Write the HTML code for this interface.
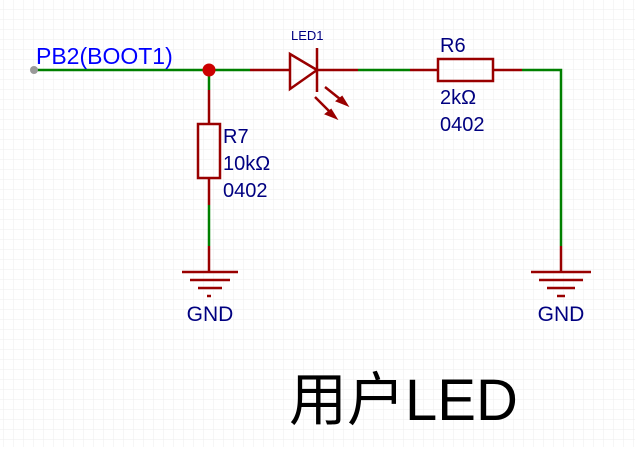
<!DOCTYPE html>
<html><head><meta charset="utf-8"><style>
html,body{margin:0;padding:0;background:#fff}
body{width:635px;height:447px;overflow:hidden}
</style></head><body>
<svg width="635" height="447" xmlns="http://www.w3.org/2000/svg">
<defs>
<pattern id="g" width="10" height="10" patternUnits="userSpaceOnUse" x="4" y="0">
<path d="M10 0V10M0 10H10" stroke="#eeeeee" stroke-width="1" fill="none"/>
</pattern>
</defs>
<rect width="635" height="447" fill="url(#g)"/>
<g fill="none" stroke-width="2.5">
<path d="M34 70H250M358 70H410M522 70H561V246M209 70V90M209 205V246" stroke="#008000"/>
<path d="M250 70H290M317 70H358M410 70H438M493 70H522M209 90V124M209 178V205M209 246V272M561 246V272" stroke="#990000"/>
<rect x="438" y="59" width="55" height="22" stroke="#990000"/>
<rect x="198" y="124" width="22" height="54" stroke="#990000"/>
<path d="M290 54L317 70L290 89Z M317 48V92" stroke="#990000"/>
<path d="M325 87L345 103M315 97L334 116" stroke="#990000"/>
<path d="M182 272H238M190 280H230M198 288H222M207 296H211" stroke="#990000"/>
<path d="M531 272H591M539 280H583M547 288H575M557 296H565" stroke="#990000"/>
</g>
<path d="M347 105L337 101L342 97Z M336 118L326 114L331 110Z" fill="#990000" stroke="#990000" stroke-width="2"/>
<circle cx="34" cy="70" r="4" fill="#999"/>
<circle cx="209" cy="70" r="6.5" fill="#cc0000"/>
<g font-family="Liberation Sans, sans-serif" fill="#000080">
<text x="36" y="64" font-size="23" fill="#0000ff">PB2(BOOT1)</text>
<text x="291" y="40" font-size="13">LED1</text>
<text x="440" y="52" font-size="20">R6</text>
<text x="440" y="104" font-size="20">2kΩ</text>
<text x="440" y="131" font-size="20">0402</text>
<text x="223" y="143" font-size="20">R7</text>
<text x="223" y="170" font-size="20">10kΩ</text>
<text x="223" y="197" font-size="20">0402</text>
<text x="210" y="321" font-size="21" text-anchor="middle">GND</text>
<text x="561" y="321" font-size="21" text-anchor="middle">GND</text>
</g>
<text x="289" y="420" font-size="58" font-family="Liberation Sans, Noto Sans CJK SC, sans-serif" fill="#000">用户LED</text>
</svg>
</body></html>
